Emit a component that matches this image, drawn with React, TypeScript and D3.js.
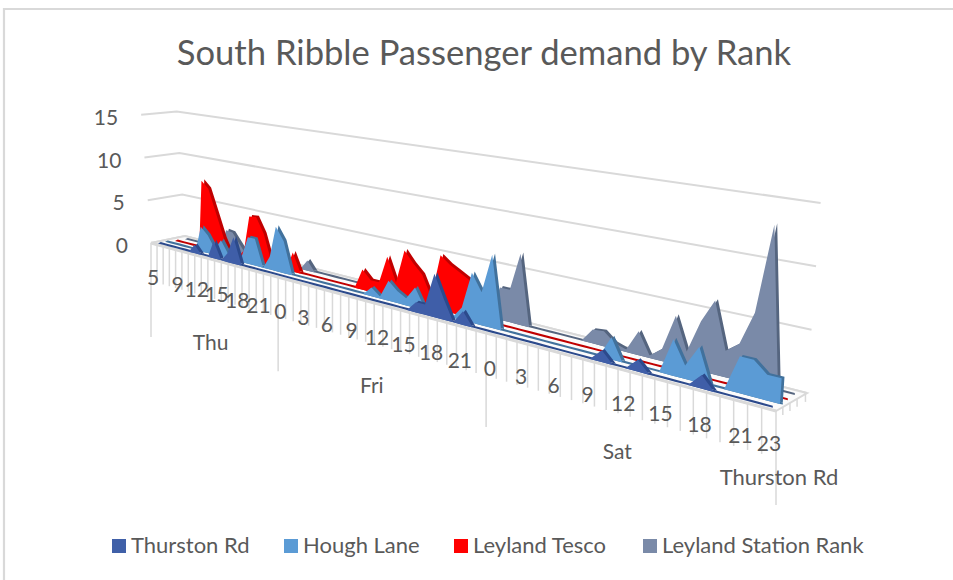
import React from "react";
import * as d3 from "d3";

// Hours along the category axis: Thu from 05:00, then all of Fri and Sat.
const thuHours = d3.range(5, 24);
const fullDay = d3.range(0, 24);
const hours = [...thuHours, ...fullDay, ...fullDay];
const dayLabels = ["Thu", "Fri", "Sat"];
const dayMidpoints = [9.1, 30.4, 54.5];
const dayBoundaries = [0, 19, 43, 67];
const hourTickIndices = [0, 4, 7, 10, 13, 16, 19, 22, 25, 28, 31, 34, 37, 40, 43, 46, 49, 52, 55, 58, 61, 64, 66];
const valueTicks = [0, 5, 10, 15];

// Passenger demand per hour, one sparse list of [index, value] per rank.
const thurstonRd: [number, number][] = [
  [6, 1], [9, 2], [11, 1], [12, 3],
  [35, 1], [36, 1], [37, 4.2], [38, 2], [40, 1.3],
  [53, 1], [56, 1], [61, 1.1],
];
const houghLane: [number, number][] = [
  [6, 2.9], [7, 2.1], [8, 0.7], [9, 1.9], [10, 0.5], [12, 0.7], [13, 3], [14, 3], [16, 1.4], [17, 4.9], [18, 3.5],
  [29, 0.9], [30, 0.2], [31, 2], [32, 1.2], [33, 0.7], [34, 2], [35, 0.3],
  [39, 1.2], [40, 4.7], [41, 3.1], [42, 6.8],
  [53, 1.9], [58, 3], [59, 1.1], [60, 2.9], [63, 2.9], [64, 2.9], [65, 2], [66, 2],
];
const leylandTesco: [number, number][] = [
  [5, 8], [6, 7.2], [7, 4.5], [8, 1.8], [11, 1], [12, 5], [13, 5.1], [14, 3.4], [15, 0.3], [18, 2.1],
  [27, 2.1], [28, 1.2], [29, 1.2], [30, 4], [31, 1.6], [32, 5], [33, 3.9], [34, 3], [35, 1], [36, 5.3], [37, 4.6], [38, 4.1], [39, 3.6], [40, 1.5],
];
const leylandStationRank: [number, number][] = [
  [7, 2.3], [8, 2.2], [9, 1.1], [19, 1.1],
  [41, 0.5], [42, 3], [43, 3], [44, 6.5],
  [51, 1.2], [52, 1.3], [53, 0.5], [54, 0.2], [55, 2], [56, 0.2], [57, 1], [58, 4], [59, 1.3], [60, 4], [61, 5.9], [62, 2.1], [63, 2.9], [64, 5.6], [65, 12.7],
];

const expand = (pairs: [number, number][]) => {
  const byIndex = new Map(pairs);
  return hours.map((_, i) => byIndex.get(i) ?? 0);
};

const seriesNames = ["Thurston Rd", "Hough Lane", "Leyland Tesco", "Leyland Station Rank"];
const seriesValues = [thurstonRd, houghLane, leylandTesco, leylandStationRank].map(expand);
const faceColors = ["#3f5ea8", "#5b9bd5", "#ff0000", "#7a8aa8"];
const sideColors = ["#2c4a8c", "#41719c", "#c00000", "#55657f"];
const legendColors = ["#4060a8", "#5b9bd5", "#ff0000", "#7a8aa8"];

// Layout of the sloping floor and the oblique projection used for the 3-D look.
const floor = { fl: [151, 243], fr: [776, 411], br: [807, 393], bl: [185, 236] };
const seriesStart = [158, 165, 175, 185];
const seriesEnd = [770, 780, 783, 778];
const seriesDepth = [0.09, 0.31, 0.53, 0.8];
const ribbonTail = [0, 0, 2, 14];
const vanishX = 422;
const lean = 0.00235;
const perspective = 0.55;
const slope = (floor.fr[1] - floor.fl[1]) / (floor.fr[0] - floor.fl[0]);

const foreshorten = (u: number) => u / (1 + perspective * (1 - u));
const frontY = (x: number) => floor.fl[1] + (x - floor.fl[0]) * slope;
const unitHeight = d3.scaleLinear().domain([0, 1]).range([8.3, 12.9]);
const floorDrop = d3.scaleLinear().domain([0, 1]).range([16, 26]);
const pointU = d3.scaleLinear().domain([0, hours.length - 1]).range([0, 1]);
const tickU = d3.scaleLinear().domain([0, hours.length]).range([0, 1]);
const lift = (xBase: number, yBase: number, v: number, s: number): [number, number] => [
  xBase + (xBase - vanishX) * lean * v,
  yBase - v * unitHeight(s),
];

function seriesPoints(k: number, dx = 0, dy = 0) {
  const xs = d3.scaleLinear().domain([0, 1]).range([seriesStart[k], seriesEnd[k]]);
  return seriesValues[k].map((v, i) => {
    const s = foreshorten(pointU(i));
    const xb = xs(s);
    const yb = frontY(xb) - seriesDepth[k] * floorDrop(s);
    const [x, y] = lift(xb, yb, v, s);
    return { x: x + dx, y: y + dy, xb: xb + dx, yb: yb + dy };
  });
}

const areaPath = d3
  .area<{ x: number; y: number; xb: number; yb: number }>()
  .x0((d) => d.xb)
  .y0((d) => d.yb)
  .x1((d) => d.x)
  .y1((d) => d.y);

const polygon = (pts: number[][]) => "M" + pts.map((p) => p.join(",")).join("L") + "Z";

const textStyle = { fontFamily: "Lato, Carlito, sans-serif", fill: "#595959" };
const gridColor = "#d9d9d9";

// Back wall and left wall gridlines, in floor coordinates.
function Gridlines() {
  return (
    <g stroke={gridColor} strokeWidth={2} fill="none">
      {valueTicks.map((v) => {
        const leftFront = lift(floor.fl[0], floor.fl[1], v * 1.03, 0);
        const leftBack = lift(floor.bl[0], floor.bl[1], v, 0);
        const rightBack = lift(floor.br[0], floor.br[1], v, 0.95);
        return <polyline key={v} points={[leftFront, leftBack, rightBack].map((p) => p.join(",")).join(" ")} />;
      })}
    </g>
  );
}

function FloorAndTicks() {
  const { fl, fr, br, bl } = floor;
  const tickLen = d3.scaleLinear().domain([0, 1]).range([38, 47]);
  return (
    <g>
      <g stroke={gridColor} strokeWidth={1.5}>
        {d3.range(hours.length + 1).map((i) => {
          const s = foreshorten(tickU(i));
          const x = fl[0] + (fr[0] - fl[0]) * s;
          const y = frontY(x);
          const major = dayBoundaries.includes(i);
          return <line key={i} x1={x} x2={x} y1={y} y2={y + (major ? 94 : tickLen(s))} />;
        })}
        {[0.22, 0.45, 0.68, 0.95].map((z) => {
          const x = fr[0] + (br[0] - fr[0]) * z;
          const y = fr[1] + (br[1] - fr[1]) * z;
          return <line key={z} x1={x} x2={x} y1={y} y2={y + 8} />;
        })}
      </g>
      <path d={polygon([fl, fr, br, bl])} fill="#fbfbfb" stroke={gridColor} strokeWidth={2} />
      <line x1={fl[0]} y1={fl[1]} x2={fr[0]} y2={fr[1]} stroke={gridColor} strokeWidth={3} />
    </g>
  );
}

// One extruded ribbon: dark rear copy first, lit face on top, and a thin strip along the floor.
function Ribbon({ k }: { k: number }) {
  const face = seriesPoints(k);
  const rear = seriesPoints(k, 2.8, -1.4);
  const last = rear[rear.length - 1];
  const tail = ribbonTail[k];
  const tip = [last.xb + tail, last.yb + tail * slope];
  const stripOutline = [
    ...rear.map((p) => [p.xb, p.yb]),
    tip,
    [tip[0], tip[1] + 2],
    ...face.map((p) => [p.xb, p.yb]).reverse(),
  ];
  return (
    <g>
      <path d={areaPath(rear) ?? ""} fill={sideColors[k]} />
      <path d={polygon(stripOutline)} fill={sideColors[k]} />
      <path d={areaPath(face) ?? ""} fill={faceColors[k]} />
    </g>
  );
}

function AxisLabels() {
  const labelX = d3.scaleLinear().domain([0, 1]).range([153, 769]);
  return (
    <g style={textStyle} fontSize={21} textAnchor="middle" dominantBaseline="central">
      {valueTicks.map((v) => {
        const [x, y] = lift(floor.fl[0], floor.fl[1], v * 1.03, 0);
        return (
          <text key={v} x={x - 23} y={y + 1.5} textAnchor="end">
            {v}
          </text>
        );
      })}
      {hourTickIndices.map((i) => {
        const x = labelX(foreshorten(pointU(i)));
        return (
          <text key={i} x={x} y={frontY(x) + 33}>
            {hours[i]}
          </text>
        );
      })}
      {dayLabels.map((d, n) => {
        const x = labelX(foreshorten(pointU(dayMidpoints[n])));
        return (
          <text key={d} x={x} y={frontY(x) + 82}>
            {d}
          </text>
        );
      })}
      <text x={779} y={476} fontSize={22}>
        {seriesNames[0]}
      </text>
    </g>
  );
}

function Legend() {
  const swatchX = [112, 284, 454, 643];
  return (
    <g style={textStyle} fontSize={22}>
      {seriesNames.map((name, k) => (
        <g key={name}>
          <rect x={swatchX[k]} y={539} width={14} height={14} fill={legendColors[k]} />
          <text x={swatchX[k] + 19} y={553}>
            {name}
          </text>
        </g>
      ))}
    </g>
  );
}

export default function App() {
  return (
    <svg
      width={953}
      height={580}
      viewBox="0 0 953 580"
      style={{ position: "absolute", left: 0, top: 0, display: "block", background: "#fff" }}
    >
      <path d="M4,580V9H953" fill="none" stroke="#d9d9d9" strokeWidth={2.2} />
      <text x={484} y={65} textAnchor="middle" fontSize={34.6} style={textStyle}>
        South Ribble Passenger demand by Rank
      </text>
      <Gridlines />
      <FloorAndTicks />
      {[3, 2, 1, 0].map((k) => (
        <Ribbon key={k} k={k} />
      ))}
      <AxisLabels />
      <Legend />
    </svg>
  );
}
